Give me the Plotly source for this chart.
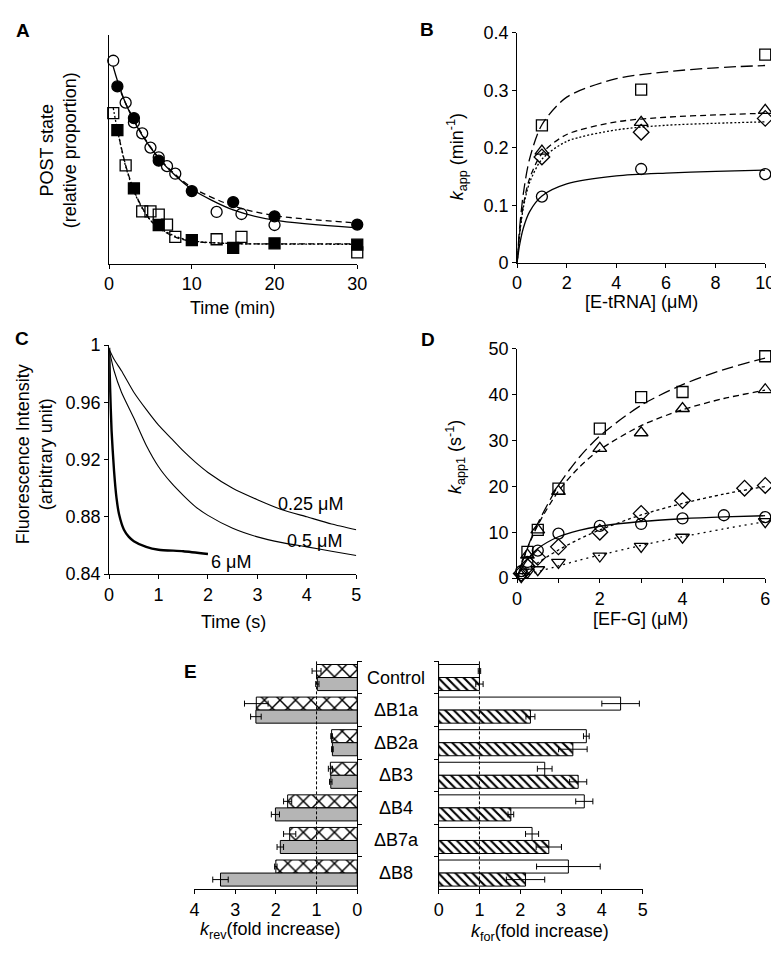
import plotly.graph_objs as go

W, H = 779, 955
FONT = "Liberation Sans, Arial, sans-serif"
FS = 18

# ---- panel A: POST state vs time ----
a_open_circ_x = [0.5, 2, 3, 4, 5, 6, 7, 8, 13, 16, 20]
a_open_circ_y = [0.886, 0.703, 0.617, 0.569, 0.507, 0.464, 0.426, 0.393, 0.226, 0.217, 0.169]
a_fill_circ_x = [1, 3, 6, 10, 15, 20, 30]
a_fill_circ_y = [0.774, 0.636, 0.45, 0.317, 0.269, 0.207, 0.171]
a_open_sq_x = [0.5, 2, 4, 5, 6, 7, 8, 13, 16, 30]
a_open_sq_y = [0.657, 0.429, 0.229, 0.229, 0.214, 0.171, 0.117, 0.107, 0.117, 0.05]
a_fill_sq_x = [1, 3, 6, 10, 15, 20, 30]
a_fill_sq_y = [0.583, 0.329, 0.169, 0.103, 0.069, 0.089, 0.083]

a_fit_circ_x = [0.5, 1, 2, 4, 6, 8, 10, 15, 20, 30]
a_fit_circ_y = [0.86, 0.80, 0.70, 0.56, 0.46, 0.385, 0.325, 0.235, 0.19, 0.157]
a_fit_circ2_x = [1, 2, 4, 6, 8, 10, 15, 20, 30]
a_fit_circ2_y = [0.79, 0.70, 0.565, 0.462, 0.39, 0.333, 0.252, 0.21, 0.178]
a_fit_sq_x = [0.5, 1, 2, 3, 4, 5, 6, 8, 10, 15, 20, 30]
a_fit_sq_y = [0.68, 0.585, 0.425, 0.316, 0.242, 0.19, 0.158, 0.12, 0.1, 0.088, 0.086, 0.085]
a_fit_sq2_x = [1, 2, 3, 4, 5, 6, 8, 10, 15, 20, 30]
a_fit_sq2_y = [0.585, 0.43, 0.32, 0.245, 0.19, 0.155, 0.116, 0.098, 0.088, 0.087, 0.087]

# ---- panel B: kapp vs [E-tRNA] ----
b_x = [1, 5, 10]
b_sq = [0.239, 0.301, 0.362]
b_tri = [0.194, 0.244, 0.265]
b_dia = [0.184, 0.227, 0.251]
b_circ = [0.115, 0.163, 0.154]
b_fit_x = [0, 0.1, 0.25, 0.5, 1, 2, 4, 6, 8, 10]
b_fit_sq = [0, 0.06, 0.12, 0.18, 0.24, 0.288, 0.32, 0.332, 0.339, 0.343]
b_fit_tri = [0, 0.0515, 0.100, 0.146, 0.190, 0.223, 0.245, 0.253, 0.257, 0.26]
b_fit_dia = [0, 0.049, 0.0955, 0.139, 0.180, 0.211, 0.231, 0.239, 0.2425, 0.245]
b_fit_circ = [0, 0.0306, 0.060, 0.0885, 0.116, 0.137, 0.151, 0.156, 0.159, 0.161]

# ---- panel C: fluorescence traces ----
c_t = [0, 0.1, 0.25, 0.5, 0.75, 1, 1.25, 1.5, 1.75, 2, 2.5, 3, 3.5, 4, 4.5, 5]
c_025_v = [0.997, 0.990, 0.982, 0.967, 0.955, 0.944, 0.935, 0.926, 0.918, 0.911, 0.900, 0.892, 0.885, 0.880, 0.875, 0.871]
c_05_v = [0.997, 0.982, 0.967, 0.949, 0.930, 0.915, 0.904, 0.895, 0.887, 0.881, 0.872, 0.866, 0.862, 0.859, 0.856, 0.853]
c_6_t = [0, 0.02, 0.05, 0.1, 0.15, 0.2, 0.3, 0.4, 0.5, 0.75, 1, 1.5, 2]
c_6_v = [0.998, 0.97, 0.94, 0.912, 0.893, 0.882, 0.871, 0.866, 0.863, 0.859, 0.857, 0.856, 0.854]

# ---- panel D: kapp1 vs [EF-G] ----
d_sq_x = [0.25, 0.5, 1, 2, 3, 4, 6]
d_sq_y = [5.7, 10.5, 19.5, 32.6, 39.5, 40.6, 48.4]
d_tri_x = [0.25, 0.5, 1, 2, 3, 4, 6]
d_tri_y = [5.0, 10.5, 18.9, 28.3, 31.7, 37.0, 41.1]
d_dia_x = [0.1, 0.25, 0.5, 1, 2, 3, 4, 5.5, 6]
d_dia_y = [1.0, 2.5, 4.5, 6.8, 10.0, 14.1, 16.9, 19.6, 20.2]
d_circ_x = [0.1, 0.25, 0.5, 1, 2, 3, 4, 5, 6]
d_circ_y = [1.5, 3.5, 6.0, 9.7, 11.4, 11.8, 13.0, 13.7, 13.3]
d_itri_x = [0.1, 0.25, 0.5, 1, 2, 3, 4, 6]
d_itri_y = [0.3, 1.3, 1.8, 3.4, 4.8, 6.9, 8.9, 12.3]
d_fit_x = [0, 0.1, 0.25, 0.5, 1, 1.5, 2, 3, 4, 5, 6]
d_fit_sq = [0, 2.8, 6.6, 11.9, 20.2, 26.3, 31.0, 37.7, 42.2, 45.5, 48.0]
d_fit_tri = [0, 2.79, 6.46, 11.53, 18.97, 24.16, 28.0, 33.27, 36.73, 39.18, 41.0]
d_fit_dia = [0, 0.72, 1.75, 3.34, 6.12, 8.48, 10.49, 13.76, 16.29, 18.32, 19.98]
d_fit_circ = [0, 1.94, 4.07, 6.42, 9.01, 10.42, 11.30, 12.34, 12.94, 13.33, 13.6]
d_fit_itri = [0, 0.28, 0.69, 1.36, 2.65, 3.86, 5.0, 7.11, 9.01, 10.73, 12.3]

# ---- panel E: fold increases ----
e_cats = ["Control", "ΔB1a", "ΔB2a", "ΔB3", "ΔB4", "ΔB7a", "ΔB8"]
e_rev_cross = [1.0, 2.48, 0.63, 0.66, 1.71, 1.66, 2.0]
e_rev_cross_err = [0.11, 0.29, 0.02, 0.05, 0.1, 0.15, 0.03]
e_rev_grey = [0.98, 2.49, 0.61, 0.65, 2.01, 1.89, 3.36]
e_rev_grey_err = [0.04, 0.13, 0.02, 0.03, 0.1, 0.08, 0.19]
e_for_white = [1.0, 4.46, 3.62, 2.6, 3.57, 2.29, 3.18]
e_for_white_err = [0.03, 0.46, 0.07, 0.18, 0.21, 0.16, 0.78]
e_for_hatch = [1.0, 2.25, 3.29, 3.42, 1.77, 2.7, 2.13]
e_for_hatch_err = [0.09, 0.11, 0.35, 0.21, 0.07, 0.31, 0.47]


def dx(a, b):
    return [a / W, b / W]


def dy(top, bottom):
    return [1 - bottom / H, 1 - top / H]


def axis(domain, rng, anchor, **kw):
    d = dict(domain=domain, range=rng, anchor=anchor, showline=True,
             linecolor='black', linewidth=1, ticks='outside', ticklen=4,
             tickcolor='black', showgrid=False, zeroline=False,
             tickfont=dict(size=FS, color='black', family=FONT))
    d.update(kw)
    return d


def pts(x, y, symbol, xa, ya, size=10):
    return go.Scatter(x=x, y=y, mode='markers', xaxis=xa, yaxis=ya, cliponaxis=False,
                      marker=dict(symbol=symbol, size=size, color='black',
                                  line=dict(color='black', width=1.3)))


def curve(x, y, dash, xa, ya, width=1.3, smooth=0.8):
    return go.Scatter(x=x, y=y, mode='lines', xaxis=xa, yaxis=ya,
                      line=dict(color='black', width=width, dash=dash,
                                shape='spline', smoothing=smooth))


data = [
    # A
    curve(a_fit_circ_x, a_fit_circ_y, 'solid', 'x', 'y'),
    curve(a_fit_circ2_x, a_fit_circ2_y, '6px,4px', 'x', 'y'),
    curve(a_fit_sq_x, a_fit_sq_y, '2px,2px', 'x', 'y'),
    curve(a_fit_sq2_x, a_fit_sq2_y, '6px,3px', 'x', 'y'),
    pts(a_open_circ_x, a_open_circ_y, 'circle-open', 'x', 'y', 11),
    pts(a_fill_circ_x, a_fill_circ_y, 'circle', 'x', 'y', 11),
    pts(a_open_sq_x, a_open_sq_y, 'square-open', 'x', 'y', 11),
    pts(a_fill_sq_x, a_fill_sq_y, 'square', 'x', 'y', 11),
    # B
    curve(b_fit_x, b_fit_sq, '12px,5px', 'x2', 'y2'),
    curve(b_fit_x, b_fit_tri, '6px,4px', 'x2', 'y2'),
    curve(b_fit_x, b_fit_dia, '2px,2px', 'x2', 'y2'),
    curve(b_fit_x, b_fit_circ, 'solid', 'x2', 'y2'),
    pts(b_x, b_sq, 'square-open', 'x2', 'y2', 11),
    pts(b_x, b_tri, 'triangle-up-open', 'x2', 'y2', 12),
    pts(b_x, b_dia, 'diamond-open', 'x2', 'y2', 12),
    pts(b_x, b_circ, 'circle-open', 'x2', 'y2', 11),
    # C
    curve(c_t, c_025_v, 'solid', 'x3', 'y3', 1.1, 0.6),
    curve(c_t, c_05_v, 'solid', 'x3', 'y3', 1.1, 0.6),
    curve(c_6_t, c_6_v, 'solid', 'x3', 'y3', 2.4, 0.6),
    # D
    curve(d_fit_x, d_fit_sq, '12px,5px', 'x4', 'y4'),
    curve(d_fit_x, d_fit_tri, '6px,4px', 'x4', 'y4'),
    curve(d_fit_x, d_fit_dia, '3px,3px', 'x4', 'y4'),
    curve(d_fit_x, d_fit_circ, 'solid', 'x4', 'y4'),
    curve(d_fit_x, d_fit_itri, '2px,4px', 'x4', 'y4'),
    pts(d_sq_x, d_sq_y, 'square-open', 'x4', 'y4', 11),
    pts(d_tri_x, d_tri_y, 'triangle-up-open', 'x4', 'y4', 12),
    pts(d_dia_x, d_dia_y, 'diamond-open', 'x4', 'y4', 12),
    pts(d_circ_x, d_circ_y, 'circle-open', 'x4', 'y4', 11),
    pts(d_itri_x, d_itri_y, 'triangle-down-open', 'x4', 'y4', 12),
]

err = dict(type='data', color='black', thickness=1, width=3)
bar_line = dict(color='black', width=1)

data += [
    go.Bar(y=e_cats, x=e_rev_cross, orientation='h', xaxis='x5', yaxis='y5',
           error_x=dict(array=e_rev_cross_err, **err),
           marker=dict(color='white', line=bar_line,
                       pattern=dict(shape='x', fgcolor='black', bgcolor='white',
                                    size=11, solidity=0.25, fgopacity=1))),
    go.Bar(y=e_cats, x=e_rev_grey, orientation='h', xaxis='x5', yaxis='y5',
           error_x=dict(array=e_rev_grey_err, **err),
           marker=dict(color='#b5b5b5', line=bar_line)),
    go.Bar(y=e_cats, x=e_for_white, orientation='h', xaxis='x6', yaxis='y6',
           error_x=dict(array=e_for_white_err, **err),
           marker=dict(color='white', line=bar_line)),
    go.Bar(y=e_cats, x=e_for_hatch, orientation='h', xaxis='x6', yaxis='y6',
           error_x=dict(array=e_for_hatch_err, **err),
           marker=dict(color='white', line=bar_line,
                       pattern=dict(shape='\\', fgcolor='black', bgcolor='white',
                                    size=6, solidity=0.35, fgopacity=1))),
]

fig = go.Figure(data=data)

cat_axis = dict(type='category', categoryorder='array', categoryarray=e_cats,
                range=[6.5, -0.5], tickson='boundaries', showticklabels=False)

fig.update_layout(
    width=W, height=H, margin=dict(l=0, r=0, t=0, b=0),
    paper_bgcolor='white', plot_bgcolor='white', showlegend=False,
    font=dict(family=FONT, size=FS, color='black'),
    barmode='group', bargap=0.2, bargroupgap=0,
    xaxis=axis(dx(98, 351), [0, 30], 'y', tickvals=[0, 10, 20, 30]),
    yaxis=axis(dy(17, 251), [0, 1], 'x', ticks='', showticklabels=False),
    xaxis2=axis(dx(514, 767), [0, 10], 'y2', tickvals=[0, 2, 4, 6, 8, 10]),
    yaxis2=axis(dy(15, 250), [0, 0.4], 'x2', tickvals=[0, 0.1, 0.2, 0.3, 0.4],
                ticktext=['0', '0.1', '0.2', '0.3', '0.4']),
    xaxis3=axis(dx(98, 350), [0, 5], 'y3', tickvals=[0, 1, 2, 3, 4, 5]),
    yaxis3=axis(dy(334, 568), [0.84, 1], 'x3', tickvals=[0.84, 0.88, 0.92, 0.96, 1],
                ticktext=['0.84', '0.88', '0.92', '0.96', '1']),
    xaxis4=axis(dx(514, 767), [0, 6], 'y4', tickvals=[0, 2, 4, 6],
                minor=dict(dtick=1, ticks='outside', ticklen=4, tickcolor='black', showgrid=False)),
    yaxis4=axis(dy(338, 572), [0, 50], 'x4', tickvals=[0, 10, 20, 30, 40, 50]),
    xaxis5=axis(dx(185, 351), [4, 0], 'y5', tickvals=[0, 1, 2, 3, 4]),
    yaxis5=axis(dy(657, 890), None, 'x5', side='right', **cat_axis),
    xaxis6=axis(dx(434, 642), [0, 5], 'y6', tickvals=[0, 1, 2, 3, 4, 5]),
    yaxis6=axis(dy(657, 890), None, 'x6', side='left', **cat_axis),
)

# dashed reference lines at 1-fold
for xa, ya in [('x5', 'y5'), ('x6', 'y6')]:
    fig.add_shape(type='line', xref=xa, yref=ya + ' domain', x0=1, x1=1, y0=0, y1=1,
                  line=dict(color='black', width=1, dash='3px,2px'))


def note(text, x, y, size=FS, angle=0, bold=False):
    if bold:
        text = '<b>' + text + '</b>'
    fig.add_annotation(text=text, x=x / W, y=1 - y / H, xref='paper', yref='paper',
                       showarrow=False, textangle=angle, xanchor='center', yanchor='middle',
                       font=dict(size=size, color='black', family=FONT))


# panel letters
note('A', 10, 13, 19, bold=True)
note('B', 422, 12, 19, bold=True)
note('C', 9, 327, 19, bold=True)
note('D', 423, 328, 19, bold=True)
note('E', 181, 667, 19, bold=True)

# axis titles
note('POST state<br>(relative proportion)', 46, 135, angle=-90)
note('Time (min)', 224, 296)
note('<i>k</i><sub>app</sub> (min<sup>-1</sup>)', 452, 142, angle=-90)
note('[E-tRNA] (μM)', 641, 290)
note('Fluorescence Intensity<br>(arbitrary unit)', 22, 446, angle=-90)
note('Time (s)', 225, 617)
note('<i>k</i><sub>app1</sub> (s<sup>-1</sup>)', 451, 448, angle=-90)
note('[EF-G] (μM)', 640, 614)
note('<i>k</i><sub>rev</sub>(fold increase)', 263, 932)
note('<i>k</i><sub>for</sub>(fold increase)', 537, 934)

# trace labels in C
for txt, tx, ty in [('0.25 μM', 4.07, 0.889), ('0.5 μM', 4.15, 0.8628), ('6 μM', 2.47, 0.8484)]:
    fig.add_annotation(text=txt, x=tx, y=ty, xref='x3', yref='y3', showarrow=False,
                       font=dict(size=FS, color='black', family=FONT))

# category labels between E panels
for c in e_cats:
    fig.add_annotation(text=c, x=391 / W, y=c, xref='paper', yref='y6', showarrow=False,
                       font=dict(size=FS, color='black', family=FONT))

fig.write_html("out.html")
